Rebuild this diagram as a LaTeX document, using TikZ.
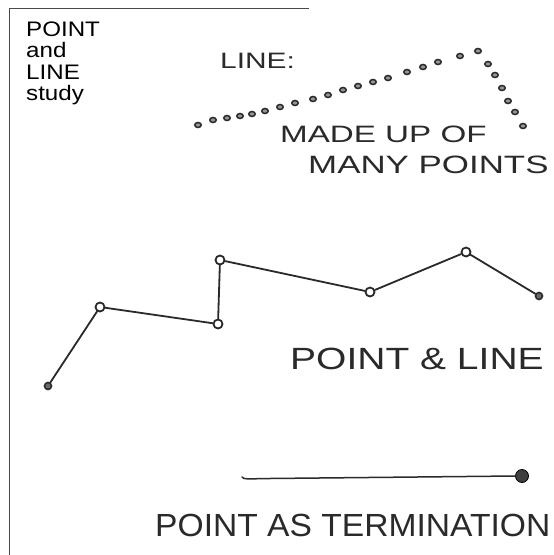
\documentclass[tikz,border=0pt]{standalone}
\usepackage{fontspec}
\usepackage{graphicx}
\setmainfont{Liberation Sans}
\newfontfamily\headfont[FakeStretch=1.15]{Liberation Sans}
\newfontfamily\handfont{Liberation Sans}
\definecolor{ink}{HTML}{2A2A2A}
\newcommand{\handtext}[3]{{\handfont\fontsize{#1}{#1}\selectfont\scalebox{#2}[1]{#3}}}
\tikzset{
  frame/.style={draw=ink!85, line width=1.5pt},
  headtxt/.style={anchor=base west, inner sep=0pt, text=black, font=\headfont\fontsize{21}{21}\selectfont},
  handtxt/.style={anchor=base west, inner sep=0pt, text=ink},
  dotpt/.style={ellipse, draw=ink, fill=ink!50, line width=1.5pt, minimum width=6.5pt, minimum height=5pt, inner sep=0pt},
  vertex/.style={circle, draw=ink, fill=white, line width=1.8pt, minimum size=9pt, inner sep=0pt},
  endvertex/.style={circle, draw=ink, fill=ink!70, line width=1.6pt, minimum size=7pt, inner sep=0pt},
  bigdot/.style={circle, fill=ink!90, draw=black, line width=0.8pt, minimum size=13pt, inner sep=0pt},
  link/.style={draw=ink, line width=1.8pt, line cap=round, line join=round}
}
\usetikzlibrary{shapes.geometric}
\begin{document}
\begin{tikzpicture}[x=1pt, y=-1pt]
\useasboundingbox (0,0) rectangle (554,555);
\fill[white] (0,0) rectangle (554,555);
% frame
\coordinate (fb) at (9.5,556);
\coordinate (fc) at (9.5,8.5);
\coordinate (fr) at (309,8.5);
\draw[frame] (fb) -- (fc) -- (fr);
% heading
\node[headtxt] (h1) at (26,36) {POINT};
\node[headtxt] (h2) at (26,57.5) {and};
\node[headtxt] (h3) at (26,79) {LINE};
\node[headtxt] (h4) at (26,100) {study};
% line made of points
\node[handtxt] (lbl1) at (220,68) {\handtext{22.3}{1.34}{LINE:}};
\foreach \i/\x/\y in {1/198/125,2/213/120,3/227/118,4/240/116,5/252/114,6/265/111,7/280/107,8/295/103,9/313/99,10/328/95,11/343/90,12/358/86,13/373/82,14/388/78,15/407/72,16/423/67,17/438/62,18/460/56,19/478/51,20/488/64,21/495/75,22/502/88,23/508/101,24/515/112,25/523/126}
  \node[dotpt] (d\i) at (\x,\y) {};
\node[handtxt] (lbl2) at (280,142) {\handtext{23.7}{1.40}{MADE UP OF}};
\node[handtxt] (lbl3) at (308,173) {\handtext{25.1}{1.39}{MANY POINTS}};
% point and line
\node[endvertex] (p1) at (48,386) {};
\node[vertex] (p2) at (100,307) {};
\node[vertex] (p3) at (218,324) {};
\node[vertex] (p4) at (220,260) {};
\node[vertex] (p5) at (370,292) {};
\node[vertex] (p6) at (466,252) {};
\node[endvertex] (p7) at (539,296) {};
\draw[link] (p1) -- (p2) -- (p3) -- (p4) -- (p5) -- (p6) -- (p7);
\node[handtxt] (lbl4) at (290,369) {\handtext{30.7}{1.27}{POINT \& LINE}};
% point as termination
\coordinate (ts) at (242,477);
\node[bigdot] (te) at (522,476) {};
\draw[link, line width=1.5pt] (ts) .. controls (243,479.5) and (250,479) .. (260,478.6) -- (te.west);
\node[handtxt] (lbl5) at (155,536) {\handtext{32}{1.05}{POINT AS TERMINATION}};
\end{tikzpicture}
\end{document}
